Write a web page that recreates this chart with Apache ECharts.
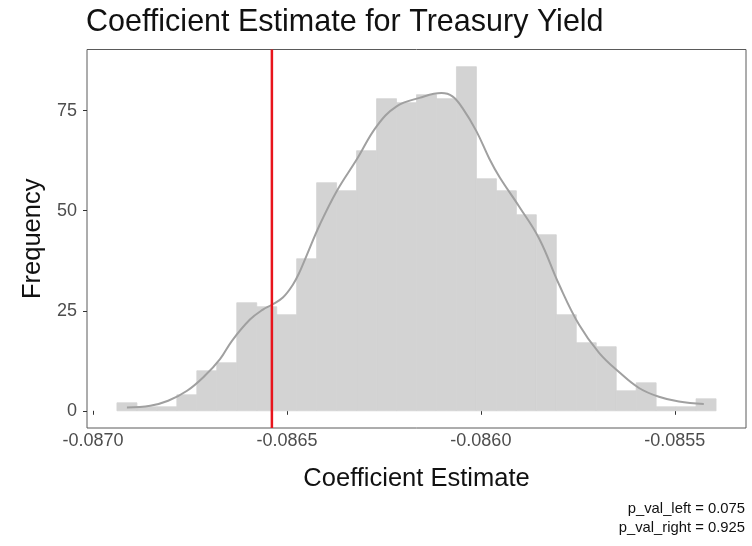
<!DOCTYPE html>
<html>
<head>
<meta charset="utf-8">
<title>Coefficient Estimate for Treasury Yield</title>
<script src="https://cdn.jsdelivr.net/npm/echarts@6.0.0/dist/echarts.min.js"></script>
<style>
  html, body { margin: 0; padding: 0; background: #ffffff; }
  #chart { width: 752px; height: 546px; }
</style>
</head>
<body>
<div id="chart"></div>
<script>
// Histogram of bootstrapped coefficient estimates (30 equal-width bins)
const binStart = -0.0869383;
const binWidth = 0.00005149;
const binCounts = [2, 1, 1, 4, 10, 12, 27, 26, 24, 38, 57, 55, 65, 78, 77,
                   79, 78, 86, 58, 55, 49, 44, 24, 17, 16, 5, 7, 1, 1, 3];

// Density curve, scaled to counts
const densityX = [-0.0869126, -0.0868526, -0.0868063, -0.0867575, -0.0867112,
                  -0.0866726, -0.0866417, -0.0865954, -0.0865620, -0.0865388,
                  -0.0865105, -0.0864848, -0.0864668, -0.0864488, -0.0864154,
                  -0.0863717, -0.0863202, -0.0862688, -0.0862173, -0.0861582,
                  -0.0861016, -0.0860733, -0.0860476, -0.0860116, -0.0859781,
                  -0.0859524, -0.0859010, -0.0858495, -0.0857981, -0.0857467,
                  -0.0856952, -0.0856438, -0.0855923, -0.0855409, -0.0854895,
                  -0.0854252];
const densityY = [0.85, 1.25, 2.5, 5.0, 8.8,
                  12.9, 17.5, 22.8, 25.3, 26.5,
                  28.3, 31.5, 34.8, 38.9, 46.5,
                  54.9, 62.8, 71.1, 76.1, 78.2,
                  79.4, 78.6, 75.7, 69.9, 63.0,
                  58.5, 51.0, 43.0, 31.5, 21.5,
                  14.5, 9.7, 5.7, 3.5, 2.3,
                  1.7];

// Observed estimate
const observedEstimate = -0.0865388;

// Axis ticks and limits
const xTicks = [-0.0870, -0.0865, -0.0860, -0.0855];
const yTicks = [0, 25, 50, 75];
const xLimits = [-0.0870155, -0.0853164];
const yLimits = [-4.3, 90.3];

const captionLines = ['p_val_left = 0.075', 'p_val_right = 0.925'];

const FONT = '"Liberation Sans", Arial, Helvetica, sans-serif';

const histData = binCounts.map((c, i) => [binStart + i * binWidth, binStart + (i + 1) * binWidth, c]);
const densityData = densityX.map((x, i) => [x, densityY[i]]);

const chart = echarts.init(document.getElementById('chart'), null, { renderer: 'canvas' });

chart.setOption({
  animation: false,
  backgroundColor: '#ffffff',
  title: {
    text: 'Coefficient Estimate for Treasury Yield',
    left: 86,
    top: 7,
    padding: 0,
    textStyle: { fontFamily: FONT, fontSize: 30.5, fontWeight: 'normal', color: '#111111' }
  },
  grid: {
    left: 87, top: 49.5, width: 659, height: 378.5,
    show: true, borderColor: '#5a5a5a', borderWidth: 1, backgroundColor: 'transparent'
  },
  xAxis: {
    type: 'value',
    min: xLimits[0], max: xLimits[1],
    name: 'Coefficient Estimate',
    nameLocation: 'middle',
    nameGap: 38,
    nameTextStyle: { fontFamily: FONT, fontSize: 25.5, color: '#111111' },
    axisLine: { show: false },
    splitLine: { show: false },
    axisTick: { show: true, length: 4, customValues: xTicks, lineStyle: { color: '#333333', width: 1 } },
    axisLabel: {
      customValues: xTicks, margin: 4,
      fontFamily: FONT, fontSize: 18, color: '#4d4d4d',
      formatter: v => v.toFixed(4)
    }
  },
  yAxis: {
    type: 'value',
    min: yLimits[0], max: yLimits[1],
    name: 'Frequency',
    nameLocation: 'middle',
    nameGap: 41,
    nameRotate: 90,
    nameTextStyle: { fontFamily: FONT, fontSize: 25.5, color: '#111111' },
    axisLine: { show: false },
    splitLine: { show: false },
    axisTick: { show: true, length: 4, customValues: yTicks, lineStyle: { color: '#333333', width: 1 } },
    axisLabel: {
      customValues: yTicks, margin: 10,
      fontFamily: FONT, fontSize: 18, color: '#4d4d4d'
    }
  },
  graphic: [{
    type: 'text',
    right: 7,
    top: 499,
    style: {
      text: captionLines.join('\n'),
      font: '14.8px ' + FONT,
      fill: '#111111',
      textAlign: 'right',
      lineHeight: 19
    }
  }],
  series: [
    {
      name: 'Histogram',
      type: 'custom',
      data: histData,
      encode: { x: [0, 1], y: 2 },
      z: 1,
      renderItem: function (params, api) {
        const topLeft = api.coord([api.value(0), api.value(2)]);
        const bottomRight = api.coord([api.value(1), 0]);
        return {
          type: 'rect',
          shape: {
            x: topLeft[0], y: topLeft[1],
            width: bottomRight[0] - topLeft[0],
            height: bottomRight[1] - topLeft[1]
          },
          style: { fill: '#d3d3d3', stroke: '#d3d3d3', lineWidth: 0.8 }
        };
      }
    },
    {
      name: 'Density',
      type: 'line',
      data: densityData,
      smooth: 0.4,
      showSymbol: false,
      z: 3,
      lineStyle: { color: '#a0a0a0', width: 2 }
    },
    {
      name: 'Observed',
      type: 'line',
      data: [[observedEstimate, yLimits[0]], [observedEstimate, yLimits[1]]],
      showSymbol: false,
      z: 5,
      lineStyle: { color: '#e8141c', width: 2.5, type: 'solid' }
    }
  ]
});
</script>
</body>
</html>
